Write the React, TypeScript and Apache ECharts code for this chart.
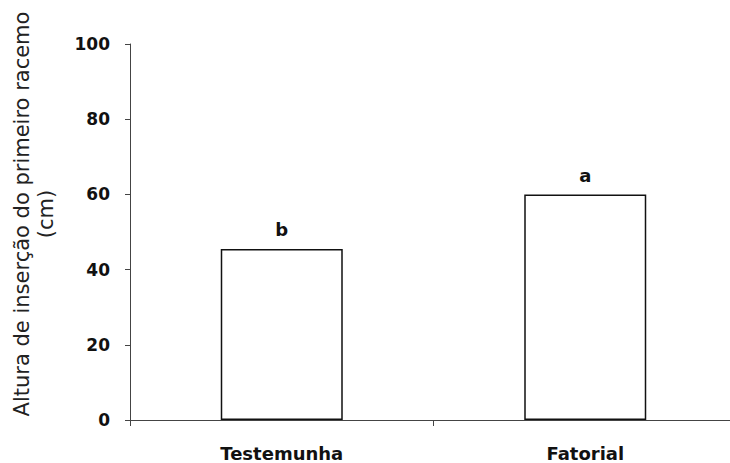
import React, { useEffect, useRef } from "react";
import * as echarts from "echarts";

const categories = ["Testemunha", "Fatorial"];
const values = [45.5, 60];
const letters = ["b", "a"];
const yTicks = [0, 20, 40, 60, 80, 100];
const yTitle = "Altura de inserção do primeiro racemo\n(cm)";

export default function App() {
  const ref = useRef<HTMLDivElement>(null);
  useEffect(() => {
    if (!ref.current) return;
    const chart = echarts.init(ref.current, null, { renderer: "svg" });
    chart.setOption({
      animation: false,
      backgroundColor: "#ffffff",
      grid: { left: 130, top: 44, bottom: 43, width: 607 },
      xAxis: {
        type: "category",
        data: categories,
        boundaryGap: true,
        axisLine: { lineStyle: { color: "#444", width: 1 } },
        axisTick: { show: true, length: 6, lineStyle: { color: "#444" } },
        axisLabel: {
          margin: 24,
          fontFamily: "DejaVu Sans",
          fontWeight: "bold",
          fontSize: 18,
          color: "#111",
        },
      },
      yAxis: {
        type: "value",
        min: yTicks[0],
        max: yTicks[yTicks.length - 1],
        interval: 20,
        splitLine: { show: false },
        axisLine: { show: true, lineStyle: { color: "#444", width: 1 } },
        axisTick: { show: true, length: 5, lineStyle: { color: "#444" } },
        axisLabel: {
          margin: 20,
          fontFamily: "DejaVu Sans",
          fontWeight: "bold",
          fontSize: 17,
          color: "#111",
        },
      },
      graphic: [
        {
          type: "text",
          x: 34,
          y: 214,
          rotation: Math.PI / 2,
          style: {
            text: yTitle,
            fontFamily: "DejaVu Sans",
            fontSize: 21,
            lineHeight: 24,
            fill: "#222",
            align: "center",
            verticalAlign: "middle",
          },
        },
      ],
      series: [
        {
          type: "bar",
          data: values,
          barWidth: 122,
          itemStyle: { color: "#ffffff", borderColor: "#111", borderWidth: 1.5 },
          label: {
            show: true,
            position: "top",
            distance: 10,
            formatter: (p: any) => letters[p.dataIndex],
            fontFamily: "DejaVu Sans",
            fontWeight: "bold",
            fontSize: 18,
            color: "#111",
          },
        },
      ],
    });
    return () => chart.dispose();
  }, []);
  return (
    <div
      style={{
        position: "fixed",
        left: 0,
        top: 0,
        width: 730,
        height: 463,
        overflow: "hidden",
        background: "#fff",
      }}
    >
      <div ref={ref} style={{ width: 745, height: 463 }} />
    </div>
  );
}
